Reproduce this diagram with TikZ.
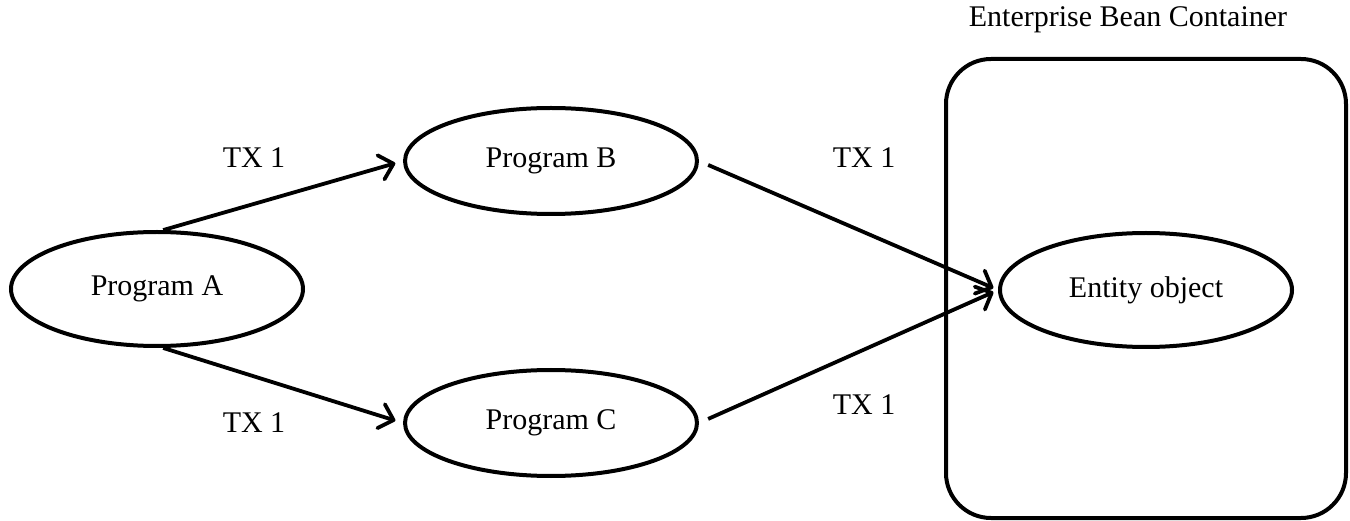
\documentclass[tikz,border=0pt]{standalone}
\usepackage{fontspec}
\setmainfont{Liberation Serif}
\usetikzlibrary{shapes.geometric,arrows.meta}
\tikzset{
  prog/.style={ellipse, draw, line width=4pt, minimum width=292pt, inner sep=0pt},
  lbl/.style={inner sep=0pt},
  conn/.style={line width=3.8pt, -{Straight Barb[length=13pt,width=25pt,line width=3.8pt,round]}},
}
\begin{document}
\begin{tikzpicture}[x=1pt,y=-1pt,font=\fontsize{30}{34}\selectfont]
\useasboundingbox (0,0) rectangle (1350,521);
\node[draw, line width=4pt, rounded corners=45pt, minimum width=400pt, minimum height=459pt, inner sep=0pt] (box) at (1146,288.5) {};
\node[lbl] (title) at (1128,20) {Enterprise Bean Container};
\node[prog, minimum height=114pt] (A) at (157,289) {Program A};
\node[prog, minimum height=106pt] (B) at (551,161) {Program B};
\node[prog, minimum height=106pt] (C) at (551,423) {Program C};
\node[prog, minimum height=114pt] (E) at (1146,290) {Entity object};
\node[lbl] (t1) at (254,158) {TX 1};
\node[lbl] (t2) at (254,423) {TX 1};
\node[lbl] (t3) at (864,158) {TX 1};
\node[lbl] (t4) at (864,405) {TX 1};
\draw[conn, shorten >=8pt] (A.84) -- (B.west);
\draw[conn, shorten >=8pt] (A.276) -- (C.west);
\draw[conn, shorten <=10pt, shorten >=5pt] (B.east) -- (E.west);
\draw[conn, shorten <=10pt, shorten >=5pt] (C.east) -- (E.west);
\end{tikzpicture}
\end{document}
